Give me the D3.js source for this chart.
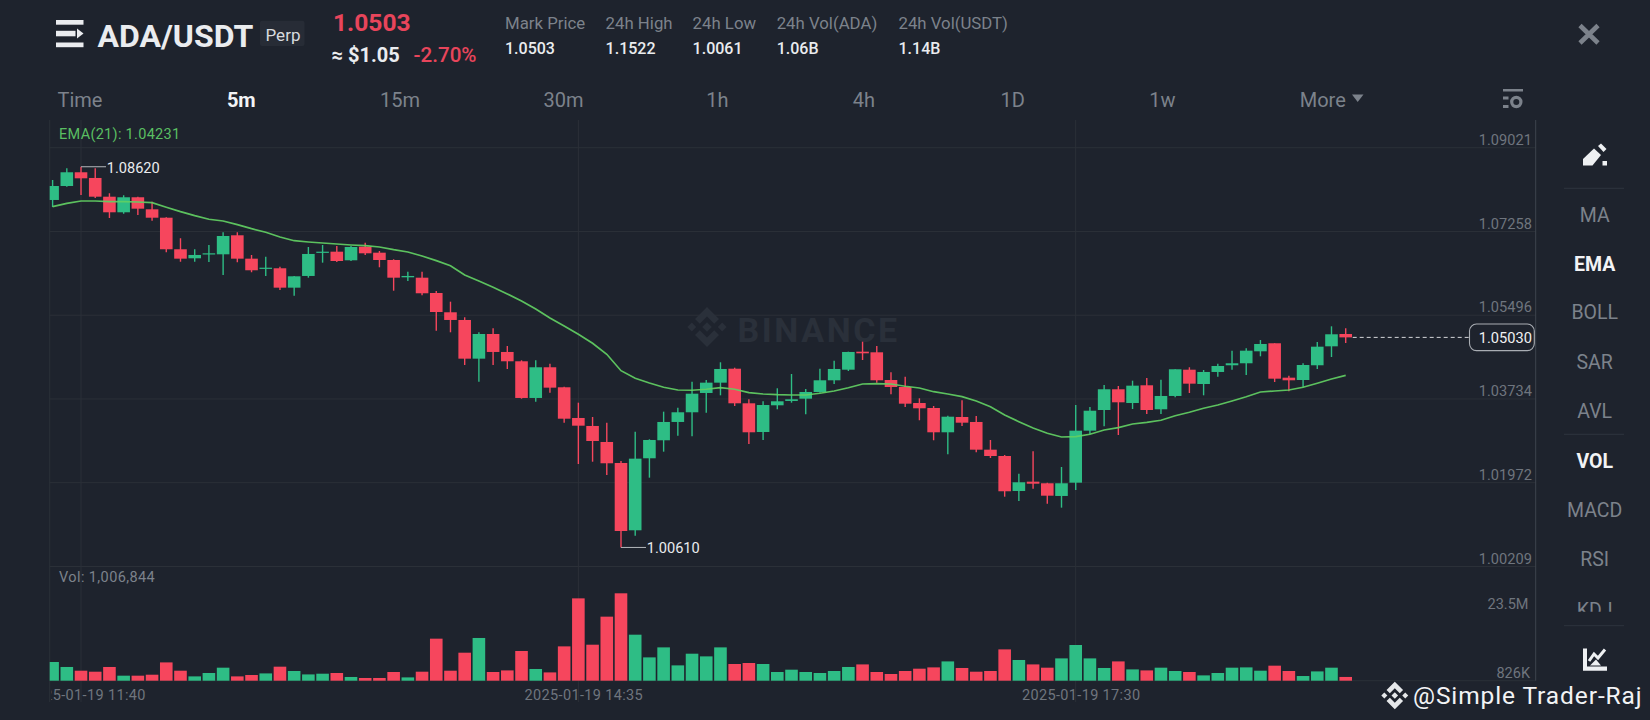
<!DOCTYPE html>
<html><head><meta charset="utf-8">
<script src="https://cdn.jsdelivr.net/npm/d3@7/dist/d3.min.js"></script>
<style>
html,body{margin:0;padding:0;background:#1e232d;overflow:hidden}
svg{display:block}
text{font-family:Roboto,"Noto Sans",sans-serif}
</style></head><body><svg id="c" width="1650" height="720"></svg>
<script>
const highs=[1.08342,1.08588,1.08620,1.08588,1.08062,1.08020,1.07990,1.07885,1.07557,1.07115,1.06884,1.06974,1.07241,1.07241,1.06764,1.06728,1.06517,1.06322,1.06932,1.06974,1.06953,1.06953,1.07022,1.06848,1.06673,1.06412,1.06412,1.06006,1.05781,1.05453,1.05137,1.05221,1.04849,1.04548,1.04548,1.04476,1.03993,1.03656,1.03355,1.03235,1.02429,1.03046,1.02886,1.03467,1.03551,1.04098,1.04133,1.04506,1.04392,1.03727,1.03685,1.03959,1.04260,1.03944,1.04371,1.04540,1.04729,1.04939,1.04849,1.04295,1.04203,1.03748,1.03586,1.03382,1.03706,1.03376,1.02871,1.02555,1.02162,1.02633,1.01973,1.02303,1.03607,1.03565,1.04028,1.04007,1.04119,1.04176,1.04140,1.04359,1.04401,1.04344,1.04476,1.04750,1.04800,1.04975,1.04906,1.04224,1.04485,1.04933,1.05263,1.05221];
const lows=[1.07774,1.08201,1.08026,1.07963,1.07542,1.07633,1.07605,1.07485,1.06820,1.06623,1.06623,1.06616,1.06343,1.06610,1.06400,1.06322,1.06027,1.05907,1.06286,1.06602,1.06616,1.06637,1.06764,1.06505,1.06012,1.06216,1.05916,1.05171,1.05137,1.04449,1.04098,1.04449,1.04365,1.03740,1.03677,1.03866,1.03235,1.02366,1.02414,1.02135,1.00610,1.00857,1.02078,1.02625,1.02962,1.02949,1.03446,1.03811,1.03586,1.02787,1.02871,1.03517,1.03656,1.03412,1.03866,1.04049,1.04323,1.04554,1.04077,1.03833,1.03565,1.03286,1.02865,1.02570,1.03166,1.02612,1.02492,1.01678,1.01587,1.01846,1.01531,1.01447,1.01819,1.02997,1.03159,1.02976,1.03523,1.03418,1.03418,1.03769,1.03860,1.03811,1.04203,1.04350,1.04239,1.04632,1.04091,1.03896,1.03980,1.04365,1.04617,1.04912];
const opens=[1.07921,1.08215,1.08504,1.08384,1.07990,1.07662,1.07978,1.07725,1.07548,1.06884,1.06694,1.06778,1.06778,1.07178,1.06686,1.06475,1.06484,1.06076,1.06322,1.06812,1.06833,1.06652,1.06938,1.06812,1.06658,1.06294,1.06286,1.05964,1.05558,1.05396,1.04582,1.05101,1.04723,1.04527,1.03755,1.04401,1.03980,1.03334,1.03166,1.02829,1.02387,1.00971,1.02486,1.02865,1.03250,1.03454,1.03860,1.04077,1.04371,1.03643,1.03039,1.03601,1.03692,1.03740,1.03881,1.04127,1.04350,1.04729,1.04716,1.04133,1.03986,1.03649,1.03544,1.03033,1.03355,1.03250,1.02667,1.02534,1.01798,1.01994,1.01960,1.01693,1.01973,1.03067,1.03502,1.03938,1.03649,1.04022,1.03517,1.03797,1.04350,1.04049,1.04302,1.04443,1.04485,1.04737,1.04906,1.04182,1.04133,1.04443,1.04842,1.05101];
const closes=[1.08215,1.08504,1.08377,1.07990,1.07662,1.07978,1.07738,1.07548,1.06884,1.06686,1.06764,1.06799,1.07163,1.06686,1.06442,1.06496,1.06076,1.06315,1.06785,1.06833,1.06637,1.06932,1.06799,1.06658,1.06286,1.06322,1.05958,1.05564,1.05396,1.04582,1.05101,1.04723,1.04527,1.03755,1.04401,1.03972,1.03319,1.03172,1.02850,1.02381,1.00956,1.02478,1.02871,1.03250,1.03454,1.03845,1.04077,1.04365,1.03643,1.03033,1.03607,1.03685,1.03727,1.03881,1.04127,1.04365,1.04723,1.04695,1.04127,1.03986,1.03635,1.03538,1.03033,1.03361,1.03235,1.02667,1.02534,1.01792,1.01981,1.01951,1.01699,1.01960,1.03067,1.03487,1.03938,1.03664,1.04014,1.03502,1.03797,1.04359,1.04056,1.04302,1.04428,1.04485,1.04750,1.04891,1.04161,1.04127,1.04449,1.04834,1.05095,1.05030];
const ema21=[1.07780,1.07851,1.07900,1.07900,1.07885,1.07885,1.07879,1.07864,1.07767,1.07675,1.07591,1.07515,1.07479,1.07401,1.07317,1.07241,1.07142,1.07064,1.07037,1.07016,1.06995,1.06974,1.06959,1.06932,1.06875,1.06827,1.06743,1.06644,1.06538,1.06343,1.06216,1.06084,1.05943,1.05796,1.05627,1.05438,1.05270,1.05095,1.04906,1.04674,1.04329,1.04169,1.04070,1.03980,1.03923,1.03917,1.03938,1.03971,1.03938,1.03866,1.03839,1.03824,1.03818,1.03818,1.03854,1.03902,1.03971,1.04049,1.04056,1.04049,1.04001,1.03965,1.03887,1.03839,1.03782,1.03692,1.03572,1.03397,1.03256,1.03123,1.03012,1.02934,1.02941,1.02991,1.03081,1.03130,1.03208,1.03243,1.03286,1.03382,1.03454,1.03538,1.03607,1.03692,1.03782,1.03881,1.03902,1.03923,1.03980,1.04064,1.04154,1.04231];
const volumesM=[5.03,3.69,2.69,2.42,3.69,1.35,1.35,1.61,4.92,2.69,1.16,2.07,3.50,1.16,1.53,1.96,3.77,2.61,1.69,1.88,2.07,1.00,0.73,0.73,2.34,0.89,2.42,11.30,2.69,7.53,11.49,2.34,2.77,7.99,3.15,2.23,9.23,22.14,9.68,17.22,23.5,12.37,6.27,8.96,4.12,7.26,6.54,8.96,4.49,4.76,4.49,2.34,2.96,2.34,2.07,2.61,3.69,4.38,2.34,1.80,2.61,3.23,3.58,5.19,3.42,2.42,2.61,8.42,5.57,4.38,3.50,6.00,9.60,6.00,3.42,5.19,3.04,2.77,3.50,2.61,2.34,1.43,2.07,3.50,3.58,2.69,4.04,2.61,1.26,2.50,3.50,1.007];
const priceTicks=[1.09021,1.07258,1.05496,1.03734,1.01972,1.00209];
const timeTickIndex=[2,37,72];
const timeTickLabels=["2025-01-19 11:40","2025-01-19 14:35","2025-01-19 17:30"];
const volTickLabels=["23.5M","826K"];
const lastPrice=1.0503, highMark=1.0862, lowMark=1.0061;
const headerLabels=["Mark Price","24h High","24h Low","24h Vol(ADA)","24h Vol(USDT)"];
const headerValues=["1.0503","1.1522","1.0061","1.06B","1.14B"];
const tabs=["Time","5m","15m","30m","1h","4h","1D","1w","More"];
const sideItems=["MA","EMA","BOLL","SAR","AVL","VOL","MACD","RSI","KDJ"];

const BG="#1e232d",RED="#f6465d",GREEN="#2ebd85",GRID="#2b3038",AXIS="#3e444e",MUTED="#7c828b",TICK="#6f757e";
const svg=d3.select("#c");
const L=49.7,R=1535.7,T=120,BASE=680.7,BOT=702;
const x=d3.scaleLinear().domain([0,91]).range([52.6,1345.7]);
const y=d3.scaleLinear().domain([1.09021,1.00209]).range([147.7,566.5]);
const v=d3.scaleLinear().domain([0,23.5]).range([BASE,593.3]);
const bw=12.6;
svg.append("rect").attr("width",1650).attr("height",720).attr("fill",BG);
const defs=svg.append("defs");
defs.append("clipPath").attr("id","plot").append("rect").attr("x",L).attr("y",T).attr("width",R-L).attr("height",BOT-T+2);
defs.append("clipPath").attr("id","timeclip").append("rect").attr("x",51.4).attr("y",T).attr("width",R-51.4).attr("height",590);
defs.append("clipPath").attr("id","kdj").append("rect").attr("x",1540).attr("y",590).attr("width",110).attr("height",21.7);

function logo(g,cx,cy,s,fill){
  const t=g.append("g").attr("transform",`translate(${cx-s/2},${cy-s/2}) scale(${s/100})`).attr("fill",fill);
  t.append("path").attr("d","M50 0L80 30L68 42L50 24L32 42L20 30Z");
  t.append("path").attr("d","M50 100L80 70L68 58L50 76L32 58L20 70Z");
  t.append("path").attr("d","M50 38L62 50L50 62L38 50Z");
  t.append("path").attr("d","M12 39L23 50L12 61L1 50Z");
  t.append("path").attr("d","M88 39L99 50L88 61L77 50Z");
}

// grid
const grid=svg.append("g");
grid.selectAll("line.h").data(priceTicks).join("line").attr("class","h")
  .attr("x1",L).attr("x2",R).attr("y1",d=>y(d)).attr("y2",d=>y(d)).attr("stroke",GRID).attr("stroke-width",1);
grid.append("line").attr("x1",L).attr("x2",R).attr("y1",BASE).attr("y2",BASE).attr("stroke",GRID);
grid.selectAll("line.v").data(timeTickIndex).join("line").attr("class","v")
  .attr("x1",d=>x(d)).attr("x2",d=>x(d)).attr("y1",T).attr("y2",BOT).attr("stroke",GRID);
grid.append("line").attr("x1",L).attr("x2",L).attr("y1",T).attr("y2",BOT).attr("stroke",GRID);
grid.append("line").attr("x1",R).attr("x2",R).attr("y1",T).attr("y2",BASE).attr("stroke",AXIS);

// watermark
logo(svg.append("g"),707,327,40,"#2a303a");
svg.append("text").attr("x",737.5).attr("y",341.7).attr("fill","#2a303a").attr("font-size",34).attr("font-weight",700).attr("letter-spacing",2.6).text("BINANCE");

// marks
const idx=d3.range(closes.length);
const col=i=>closes[i]>=opens[i]?GREEN:RED;
const plot=svg.append("g").attr("clip-path","url(#plot)");
plot.selectAll("line.w").data(idx).join("line").attr("class","w")
  .attr("x1",i=>x(i)).attr("x2",i=>x(i)).attr("y1",i=>y(highs[i])).attr("y2",i=>y(lows[i]))
  .attr("stroke",col).attr("stroke-width",1.4);
plot.selectAll("rect.b").data(idx).join("rect").attr("class","b")
  .attr("x",i=>x(i)-bw/2).attr("width",bw)
  .attr("y",i=>Math.min(y(opens[i]),y(closes[i])))
  .attr("height",i=>Math.max(1.2,Math.abs(y(opens[i])-y(closes[i]))))
  .attr("fill",col);
plot.selectAll("rect.vol").data(idx).join("rect").attr("class","vol")
  .attr("x",i=>x(i)-bw/2).attr("width",bw)
  .attr("y",i=>v(volumesM[i])).attr("height",i=>BASE-v(volumesM[i]))
  .attr("fill",col);
plot.append("path").datum(ema21)
  .attr("d",d3.line().x((d,i)=>x(i)).y(d=>y(d)))
  .attr("fill","none").attr("stroke","#62cf63").attr("stroke-width",1.7).attr("stroke-opacity",.92);

// high / low annotations
const iHi=highs.indexOf(highMark), iLo=lows.indexOf(lowMark);
svg.append("path").attr("d",`M${x(iHi)} ${y(highMark)}H${x(iHi)+25}`).attr("stroke","#b5b8bd").attr("fill","none");
svg.append("text").attr("x",x(iHi)+25.7).attr("y",y(highMark)+6).attr("fill","#eaecef").attr("font-size",14.6).text(highMark.toFixed(5));
svg.append("path").attr("d",`M${x(iLo)} ${y(lowMark)}H${x(iLo)+25}`).attr("stroke","#b5b8bd").attr("fill","none");
svg.append("text").attr("x",x(iLo)+25.7).attr("y",y(lowMark)+6).attr("fill","#eaecef").attr("font-size",14.6).text(lowMark.toFixed(5));

// price ticks
svg.selectAll("text.pt").data(priceTicks).join("text").attr("class","pt")
  .attr("x",1478.8).attr("y",d=>y(d)-2.8).attr("fill",TICK).attr("font-size",14.6).text(d=>d.toFixed(5));
svg.append("text").attr("x",1528.5).attr("y",609.3).attr("text-anchor","end").attr("fill",TICK).attr("font-size",14.5).text(volTickLabels[0]);
svg.append("text").attr("x",1530).attr("y",678.3).attr("text-anchor","end").attr("fill",TICK).attr("font-size",14.5).text(volTickLabels[1]);

// last price
svg.append("line").attr("x1",x(91)+7).attr("x2",1469.3).attr("y1",y(lastPrice)).attr("y2",y(lastPrice))
  .attr("stroke","#d5d7da").attr("stroke-dasharray","4 3").attr("stroke-width",1);
svg.append("rect").attr("x",1469.5).attr("y",324).attr("width",64.8).attr("height",26.6).attr("rx",7)
  .attr("fill",BG).attr("stroke","#a9adb3").attr("stroke-width",1.1);
svg.append("text").attr("x",1478.8).attr("y",y(lastPrice)+6).attr("fill","#f0f1f2").attr("font-size",14.6).text(lastPrice.toFixed(5));

// time ticks (labels sit a little to the right of their gridlines, as in the source)
const tt=svg.append("g").attr("clip-path","url(#timeclip)");
tt.selectAll("text").data(timeTickIndex).join("text").attr("x",d=>x(d)+5.5).attr("y",700.3).attr("text-anchor","middle")
  .attr("fill",TICK).attr("font-size",14.5).attr("letter-spacing",.35).text((d,i)=>timeTickLabels[i]);

// legends
svg.append("text").attr("x",59).attr("y",139.3).attr("fill","#5abf62").attr("font-size",14.5).attr("letter-spacing",.3).text("EMA(21): "+ema21[91].toFixed(5));
svg.append("text").attr("x",59).attr("y",582).attr("fill",MUTED).attr("font-size",14.5).attr("letter-spacing",.4).text("Vol: 1,006,844");

// header
const ic=svg.append("g").attr("fill","#eaecef");
ic.append("rect").attr("x",56).attr("y",20).attr("width",27.5).attr("height",4.7);
ic.append("rect").attr("x",56).attr("y",30.8).attr("width",19.5).attr("height",5.5);
ic.append("path").attr("d","M77 28.5L83.5 33.5L77 38.5Z");
ic.append("rect").attr("x",56).attr("y",42.5).attr("width",27.5).attr("height",4.7);
svg.append("text").attr("x",97.5).attr("y",46.7).attr("fill","#eaecef").attr("font-size",32).attr("font-weight",700).text("ADA/USDT");
svg.append("rect").attr("x",260).attr("y",20.7).attr("width",44.5).attr("height",25.3).attr("rx",2).attr("fill","#272c36");
svg.append("text").attr("x",265.5).attr("y",40.7).attr("fill","#d8dbdf").attr("font-size",17).text("Perp");
svg.append("text").attr("x",333).attr("y",30.7).attr("fill","#e8455b").attr("font-size",24.6).attr("font-weight",700).text("1.0503");
svg.append("text").attr("x",331.5).attr("y",62).attr("fill","#eaecef").attr("font-size",20).attr("font-weight",700).text("≈ $1.05");
svg.append("text").attr("x",413.5).attr("y",62).attr("fill","#e8455b").attr("font-size",20.6).attr("font-weight",500).text("-2.70%");
const hx=[505,605.6,692.6,776.7,898.5];
svg.selectAll("text.hl").data(headerLabels).join("text").attr("class","hl").attr("x",(d,i)=>hx[i]).attr("y",29.3).attr("fill",MUTED).attr("font-size",16.8).text(d=>d);
svg.selectAll("text.hv").data(headerValues).join("text").attr("class","hv").attr("x",(d,i)=>hx[i]).attr("y",54).attr("fill","#eaecef").attr("font-size",16).attr("font-weight",500).text(d=>d);

// tabs
const tabX=[80,241.3,400,563.5,717.5,864,1012.8,1162.4,1322.8];
svg.selectAll("text.tab").data(tabs).join("text").attr("class","tab").attr("x",(d,i)=>tabX[i]).attr("y",106.7).attr("text-anchor","middle")
  .attr("fill",d=>d==="5m"?"#f2f3f5":MUTED).attr("font-size",20).attr("font-weight",d=>d==="5m"?700:400).text(d=>d);
svg.append("path").attr("d","M1352 94.5H1363.5L1357.7 102Z").attr("fill",MUTED);
const si=svg.append("g").attr("fill",MUTED);
si.append("rect").attr("x",1503).attr("y",89).attr("width",20).attr("height",2.5);
si.append("rect").attr("x",1503).attr("y",96.5).attr("width",5.5).attr("height",3);
si.append("rect").attr("x",1503).attr("y",105).attr("width",5.5).attr("height",3);
svg.append("circle").attr("cx",1516.3).attr("cy",102).attr("r",4.6).attr("fill","none").attr("stroke",MUTED).attr("stroke-width",3.2);
svg.append("path").attr("d","M1580 25.5L1598 43M1598 25.5L1580 43").attr("stroke",MUTED).attr("stroke-width",4.6).attr("fill","none");

// side panel
const sideY=[221.7,270.7,319.3,369,418.3,468.3,516.7,565.7,616.5];
const active=new Set(["EMA","VOL"]);
svg.selectAll("text.sd").data(sideItems).join("text").attr("class","sd").attr("x",1594.7).attr("y",(d,i)=>sideY[i]).attr("text-anchor","middle")
  .attr("fill",d=>active.has(d)?"#f2f3f5":MUTED).attr("font-size",19.5).attr("font-weight",d=>active.has(d)?700:400)
  .attr("clip-path",d=>d==="KDJ"?"url(#kdj)":null).text(d=>d);
svg.selectAll("line.sp").data([188.3,434.3,625.7]).join("line").attr("class","sp").attr("x1",1564).attr("x2",1624).attr("y1",d=>d).attr("y2",d=>d).attr("stroke","#2e343e");
const pen=svg.append("g").attr("fill","#eef0f2");
pen.append("path").attr("d","M1583 165.5V159L1594 148.5L1601 155L1592.5 165.5Z");
pen.append("path").attr("d","M1598 146L1601 143.5L1606.5 149L1603.5 152Z");
pen.append("rect").attr("x",1602.5).attr("y",161).attr("width",4.5).attr("height",4.5);
const ci=svg.append("g");
ci.append("path").attr("d","M1583 648.5H1587V666.5H1607V670.7H1583Z").attr("fill","#eef0f2");
ci.append("path").attr("d","M1589 661L1594 654L1598 658L1605 649.5").attr("fill","none").attr("stroke","#eef0f2").attr("stroke-width",3);
ci.append("path").attr("d","M1590 665.5L1596 659.5L1601 665.5Z").attr("fill","#eef0f2");

// credit
logo(svg.append("g"),1394.8,695.5,27.5,"#e6e8ea");
svg.append("text").attr("x",1413).attr("y",704).attr("fill","#f2f3f5").attr("font-family","Noto Sans").attr("font-size",24.5).attr("letter-spacing",.9).text("@Simple Trader-Raj");
</script></body></html>
